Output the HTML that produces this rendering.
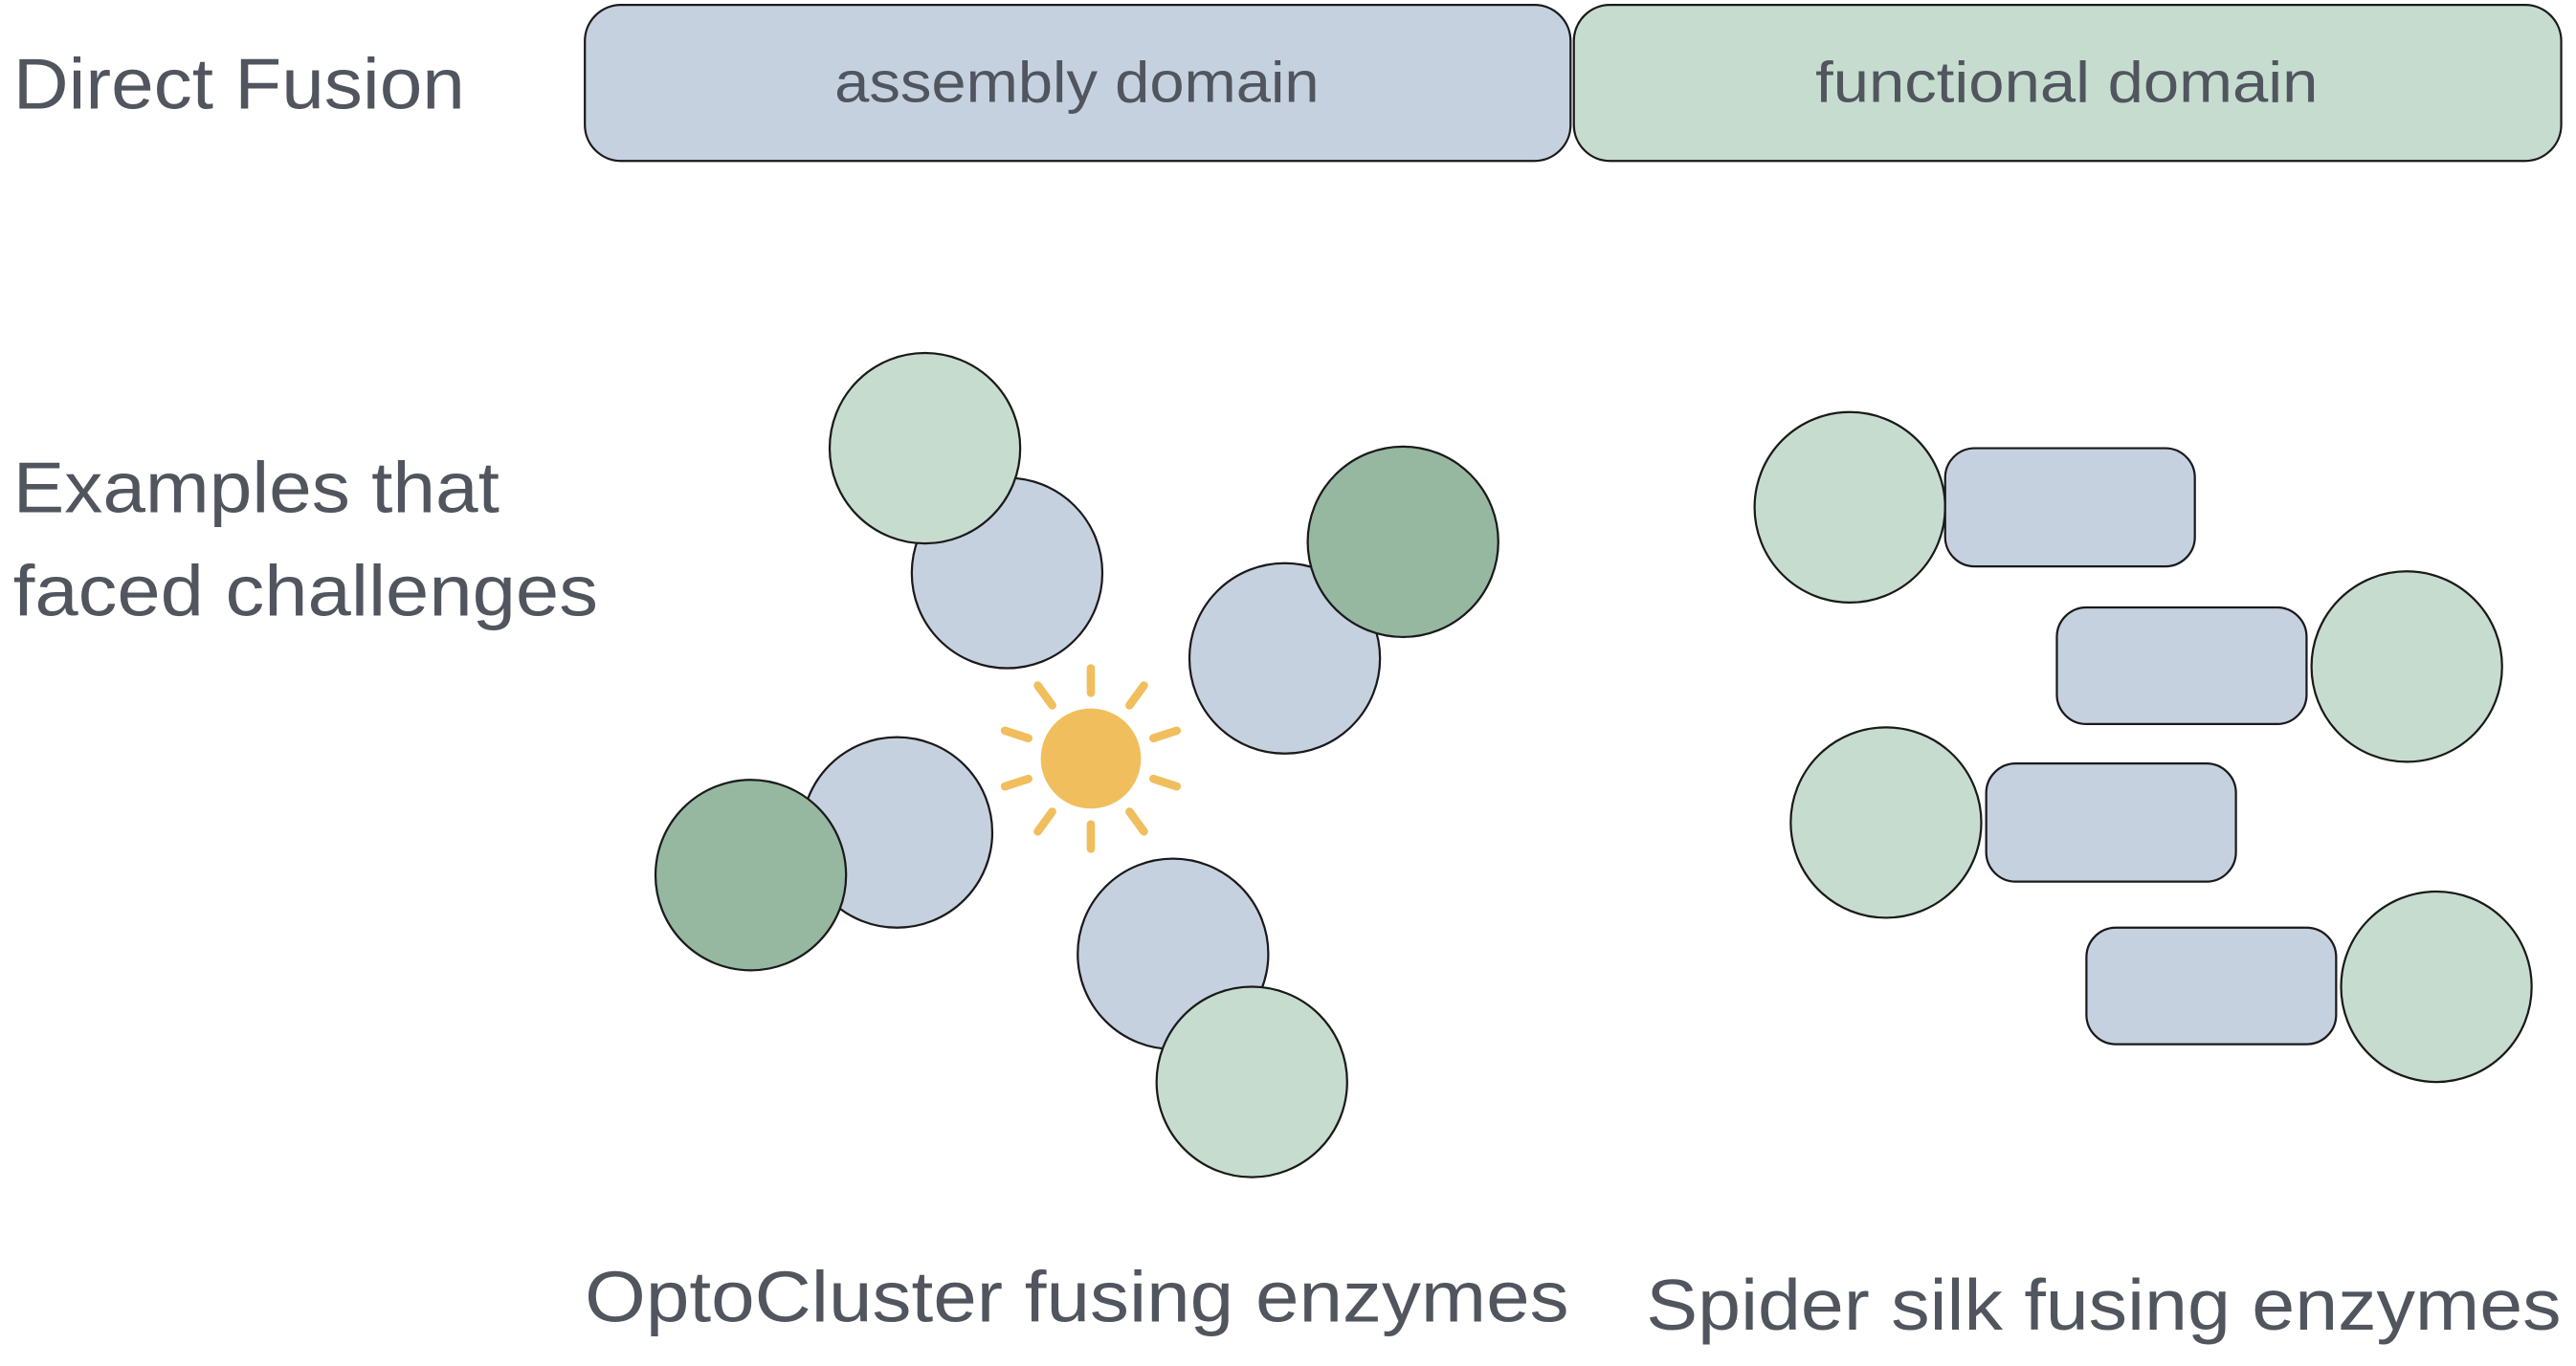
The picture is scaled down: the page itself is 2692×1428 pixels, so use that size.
<!DOCTYPE html>
<html><head><meta charset="utf-8"><style>
html,body{margin:0;padding:0;background:#fff;}
svg{display:block;}
text{font-family:"Liberation Sans",sans-serif;fill:#50555e;}
</style></head><body>
<svg width="2692" height="1428" viewBox="0 0 1568 832" preserveAspectRatio="none" xmlns="http://www.w3.org/2000/svg">
<g stroke="#1a1a1a" stroke-width="1.3">
<rect x="356" y="3" width="600" height="95" rx="22" fill="#c6d1e0"/>
<rect x="958" y="3" width="601" height="95" rx="22" fill="#c6dccf"/>
<circle cx="613" cy="349" r="58" fill="#c6d1e0"/>
<circle cx="563" cy="273" r="58" fill="#c6dccf"/>
<circle cx="782" cy="401" r="58" fill="#c6d1e0"/>
<circle cx="854" cy="330" r="58" fill="#97b8a0"/>
<circle cx="546" cy="507" r="58" fill="#c6d1e0"/>
<circle cx="457" cy="533" r="58" fill="#97b8a0"/>
<circle cx="714" cy="581" r="58" fill="#c6d1e0"/>
<circle cx="762" cy="659" r="58" fill="#c6dccf"/>
<circle cx="1126" cy="309" r="58" fill="#c6dccf"/>
<rect x="1184" y="273" width="152" height="72" rx="18" fill="#c6d1e0"/>
<rect x="1252" y="370" width="152" height="71" rx="18" fill="#c6d1e0"/>
<circle cx="1465" cy="406" r="58" fill="#c6dccf"/>
<circle cx="1148" cy="501" r="58" fill="#c6dccf"/>
<rect x="1209" y="465" width="152" height="72" rx="18" fill="#c6d1e0"/>
<rect x="1270" y="565" width="152" height="71" rx="18" fill="#c6d1e0"/>
<circle cx="1483" cy="601" r="58" fill="#c6dccf"/>
</g>
<g transform="translate(664,462)" stroke="#f0be5c" stroke-width="5" stroke-linecap="round">
<circle r="30.5" fill="#f0be5c" stroke="none"/>
<line x1="0" y1="-40" x2="0" y2="-55"/>
<line x1="0" y1="-40" x2="0" y2="-55" transform="rotate(36)"/>
<line x1="0" y1="-40" x2="0" y2="-55" transform="rotate(72)"/>
<line x1="0" y1="-40" x2="0" y2="-55" transform="rotate(108)"/>
<line x1="0" y1="-40" x2="0" y2="-55" transform="rotate(144)"/>
<line x1="0" y1="-40" x2="0" y2="-55" transform="rotate(180)"/>
<line x1="0" y1="-40" x2="0" y2="-55" transform="rotate(216)"/>
<line x1="0" y1="-40" x2="0" y2="-55" transform="rotate(252)"/>
<line x1="0" y1="-40" x2="0" y2="-55" transform="rotate(288)"/>
<line x1="0" y1="-40" x2="0" y2="-55" transform="rotate(324)"/>
</g>
<text x="508" y="62" font-size="35" textLength="295" lengthAdjust="spacingAndGlyphs">assembly domain</text>
<text x="1105" y="62" font-size="35" textLength="306" lengthAdjust="spacingAndGlyphs">functional domain</text>
<text x="8" y="66" font-size="44" textLength="275" lengthAdjust="spacingAndGlyphs">Direct Fusion</text>
<text x="8" y="312" font-size="44" textLength="296" lengthAdjust="spacingAndGlyphs">Examples that</text>
<text x="8" y="375" font-size="44" textLength="356" lengthAdjust="spacingAndGlyphs">faced challenges</text>
<text x="356" y="805" font-size="44" textLength="599" lengthAdjust="spacingAndGlyphs">OptoCluster fusing enzymes</text>
<text x="1002" y="810" font-size="44" textLength="557" lengthAdjust="spacingAndGlyphs">Spider silk fusing enzymes</text>
</svg>
</body></html>
